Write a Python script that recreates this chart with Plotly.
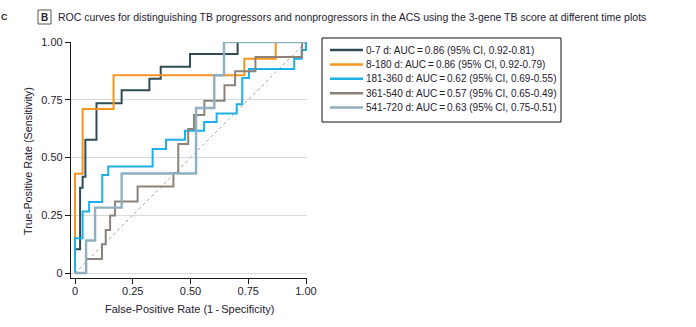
import plotly.graph_objects as go

# ---------------- data ----------------
series_names = ["0-7 d", "8-180 d", "181-360 d", "361-540 d", "541-720 d"]
auc_labels = [
    "AUC\u2009=\u20090.86 (95% CI, 0.92-0.81)",
    "AUC\u2009=\u20090.86 (95% CI, 0.92-0.79)",
    "AUC\u2009=\u20090.62 (95% CI, 0.69-0.55)",
    "AUC\u2009=\u20090.57 (95% CI, 0.65-0.49)",
    "AUC\u2009=\u20090.63 (95% CI, 0.75-0.51)",
]

fpr_0_7 = [0, 0, 0.022, 0.033, 0.045, 0.093, 0.202, 0.322, 0.371, 0.498, 0.704, 1]
tpr_0_7 = [0, 0.103, 0.369, 0.417, 0.577, 0.735, 0.791, 0.841, 0.893, 0.948, 1.0, 1]

fpr_8_180 = [0, 0, 0.033, 0.167, 0.733, 0.869, 1]
tpr_8_180 = [0, 0.43, 0.71, 0.856, 0.928, 1.0, 1]

fpr_181_360 = [0, 0, 0.033, 0.061, 0.118, 0.144, 0.336, 0.394, 0.476, 0.559, 0.613,
               0.700, 0.724, 0.753, 0.949, 0.981, 1]
tpr_181_360 = [0, 0.151, 0.266, 0.307, 0.424, 0.461, 0.537, 0.577, 0.616, 0.654, 0.691,
               0.731, 0.844, 0.883, 0.928, 0.965, 1]

fpr_361_540 = [0, 0.048, 0.117, 0.133, 0.152, 0.173, 0.271, 0.426, 0.447, 0.490, 0.515,
               0.560, 0.647, 0.693, 0.781, 0.983, 1]
tpr_361_540 = [0, 0.061, 0.124, 0.186, 0.249, 0.310, 0.374, 0.433, 0.558, 0.623, 0.684,
               0.746, 0.813, 0.873, 0.935, 1.0, 1]

fpr_541_720 = [0, 0.048, 0.087, 0.202, 0.524, 0.603, 0.645, 1]
tpr_541_720 = [0, 0.141, 0.283, 0.431, 0.714, 0.856, 1.0, 1]

all_fpr = [fpr_0_7, fpr_8_180, fpr_181_360, fpr_361_540, fpr_541_720]
all_tpr = [tpr_0_7, tpr_8_180, tpr_181_360, tpr_361_540, tpr_541_720]

tick_vals = [0, 0.25, 0.5, 0.75, 1.0]
tick_text = ["0", "0.25", "0.50", "0.75", "1.00"]

title_text = ("ROC curves for distinguishing TB progressors and nonprogressors in the ACS "
              "using the 3-gene TB score at different time plots")
x_title = "False-Positive Rate (1\u2009-\u2009Specificity)"
y_title = "True-Positive Rate (Sensitivity)"

# ---------------- style ----------------
colors = ["#2f4c57", "#f7941e", "#1eaee8", "#8c8279", "#8fb0c0"]
widths = [2, 2, 2, 2, 2.4]
FONT = "Liberation Sans, Arial, sans-serif"
TXT = "#1f2030"

W, H = 696, 327
L, R, T, B = 71, 307, 42, 278   # plot area in pixels


def px_x(p):
    return (p - L) / (R - L)


def px_y(p):
    return (B - p) / (B - T)


fig = go.Figure()

# chance diagonal
fig.add_trace(go.Scatter(x=[0, 1], y=[0, 1], mode="lines",
                         line=dict(color="#a8a8a8", width=1, dash="dot"),
                         showlegend=False, hoverinfo="skip"))

for name, fx, ty, c, w in zip(series_names, all_fpr, all_tpr, colors, widths):
    fig.add_trace(go.Scatter(x=fx, y=ty, mode="lines", name=name,
                             line=dict(color=c, width=w, shape="hv"),
                             showlegend=False, hoverinfo="skip"))

shapes = []
annotations = []

# custom legend
lx0, lx1, ly0, ly1 = 322, 561, 38, 122
shapes.append(dict(type="rect", xref="paper", yref="paper",
                   x0=px_x(lx0), x1=px_x(lx1), y0=px_y(ly0), y1=px_y(ly1),
                   line=dict(color="#111111", width=1), fillcolor="white", layer="above"))
for i, (name, lab, c) in enumerate(zip(series_names, auc_labels, colors)):
    yy = 50 + 14.4 * i
    shapes.append(dict(type="line", xref="paper", yref="paper",
                       x0=px_x(330), x1=px_x(363), y0=px_y(yy), y1=px_y(yy),
                       line=dict(color=c, width=2.5), layer="above"))
    annotations.append(dict(xref="paper", yref="paper", x=px_x(364), y=px_y(yy),
                            xanchor="left", yanchor="middle", showarrow=False,
                            text=f"{name}: {lab}",
                            font=dict(family=FONT, size=10, color=TXT)))

# panel label box "B" and title
shapes.append(dict(type="rect", xref="paper", yref="paper",
                   x0=px_x(38), x1=px_x(51), y0=px_y(10), y1=px_y(24),
                   line=dict(color="#555555", width=1), fillcolor="white"))
annotations.append(dict(xref="paper", yref="paper", x=px_x(44.5), y=px_y(17),
                        xanchor="center", yanchor="middle", showarrow=False,
                        text="<b>B</b>", font=dict(family=FONT, size=10, color=TXT)))
annotations.append(dict(xref="paper", yref="paper", x=px_x(56), y=px_y(17),
                        xanchor="left", yanchor="middle", showarrow=False,
                        text=title_text, font=dict(family=FONT, size=10.5, color=TXT)))
# panel letter fragment at the far left edge
annotations.append(dict(xref="paper", yref="paper", x=px_x(-1), y=px_y(17),
                        xanchor="left", yanchor="middle", showarrow=False,
                        text="<b>C</b>", font=dict(family=FONT, size=9, color=TXT)))

# axis titles
annotations.append(dict(xref="paper", yref="paper", x=px_x(189), y=px_y(309),
                        xanchor="center", yanchor="middle", showarrow=False,
                        text=x_title, font=dict(family=FONT, size=11, color=TXT)))
annotations.append(dict(xref="paper", yref="paper", x=px_x(28), y=px_y(161),
                        xanchor="center", yanchor="middle", showarrow=False, textangle=-90,
                        text=y_title, font=dict(family=FONT, size=10.8, color=TXT)))

fig.update_layout(
    width=W, height=H,
    margin=dict(l=L, r=W - R, t=T, b=H - B, pad=0),
    paper_bgcolor="white", plot_bgcolor="white",
    showlegend=False,
    shapes=shapes, annotations=annotations,
    xaxis=dict(range=[-0.0173, 1.0043], tickvals=tick_vals, ticktext=tick_text,
               showline=True, linecolor="#1a1a1a", linewidth=1.3,
               ticks="outside", ticklen=5, tickcolor="#1a1a1a", tickwidth=1.3,
               showgrid=False, zeroline=False, ticklabelstandoff=-2,
               tickfont=dict(family=FONT, size=11, color=TXT)),
    yaxis=dict(range=[-0.0216, 1.0], tickvals=tick_vals, ticktext=tick_text,
               showline=True, linecolor="#1a1a1a", linewidth=1.3,
               ticks="outside", ticklen=5, tickcolor="#1a1a1a", tickwidth=1.3,
               showgrid=True, gridcolor="#d9d9d9", gridwidth=1, zeroline=False,
               tickfont=dict(family=FONT, size=11, color=TXT)),
)

fig.write_html("out.html")
